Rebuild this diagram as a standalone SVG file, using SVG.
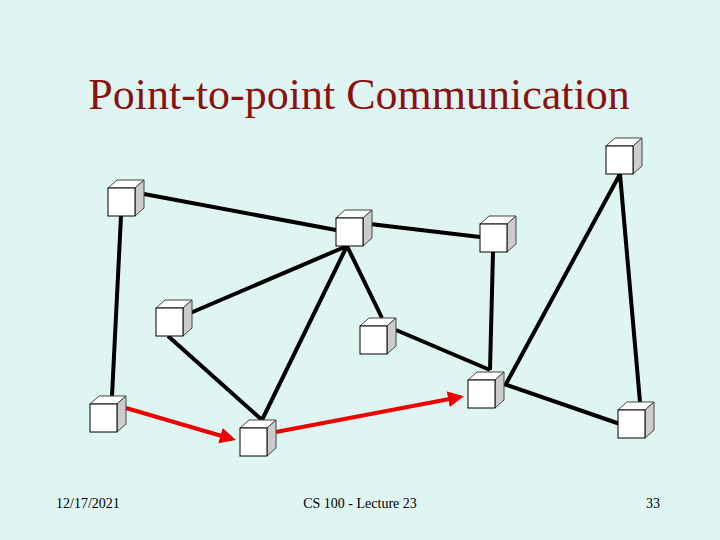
<svg xmlns="http://www.w3.org/2000/svg" width="720" height="540" viewBox="0 0 720 540">
<style>
.f{fill:#fff;stroke:#000;stroke-width:1}
.t{fill:#fff;stroke:#444;stroke-width:1}
.s{fill:#ccc;stroke:#444;stroke-width:1}
.l{stroke:#000;stroke-width:4;fill:none}
.r{stroke:#e00;stroke-width:4;fill:none;marker-end:url(#a)}
.ft{font-family:'Liberation Serif',serif;font-size:14px;fill:#000}
</style>
<defs>
<marker id="a" markerWidth="4" markerHeight="4" refX="3" refY="2" orient="auto"><path d="M0,0L4,2L0,4z" fill="#e00"/></marker>
<g id="cube"><path class="t" d="M0,0L9,-8H36L27,0z"/><path class="s" d="M27,0L36,-8V20L27,28z"/><rect class="f" x="0" y="0" width="27" height="28"/></g>
</defs>
<rect width="720" height="540" fill="#dff5f2"/>
<text x="359" y="109" text-anchor="middle" font-family="'Liberation Serif',serif" font-size="44" fill="#8b1111">Point-to-point Communication</text>
<g id="connectors">
<path class="l" d="M144,194L336,230M121,216L112,396M370,224L480,237M347,246L188,314M347,246L262,420M347,246L382,318M493,252L490,370M620,174L506,384M620,174L640,402M168,336L262,420M396,330L490,370M504,384L620,424"/>
<path class="r" d="M126,408L232,439"/>
<path class="r" d="M276,432L460,397"/>
</g>
<g id="n1"><use href="#cube" x="108" y="188"/></g>
<g id="n2"><use href="#cube" x="336" y="218"/></g>
<g id="n3"><use href="#cube" x="480" y="224"/></g>
<g id="n4"><use href="#cube" x="606" y="146"/></g>
<g id="n5"><use href="#cube" x="156" y="308"/></g>
<g id="n6"><use href="#cube" x="360" y="326"/></g>
<g id="n7"><use href="#cube" x="468" y="380"/></g>
<g id="n8"><use href="#cube" x="90" y="404"/></g>
<g id="n9"><use href="#cube" x="240" y="428"/></g>
<g id="n10"><use href="#cube" x="618" y="410"/></g>
<text class="ft" x="56" y="508">12/17/2021</text>
<text class="ft" x="360" y="508" text-anchor="middle">CS 100 - Lecture 23</text>
<text class="ft" x="660" y="508" text-anchor="end">33</text>
</svg>
